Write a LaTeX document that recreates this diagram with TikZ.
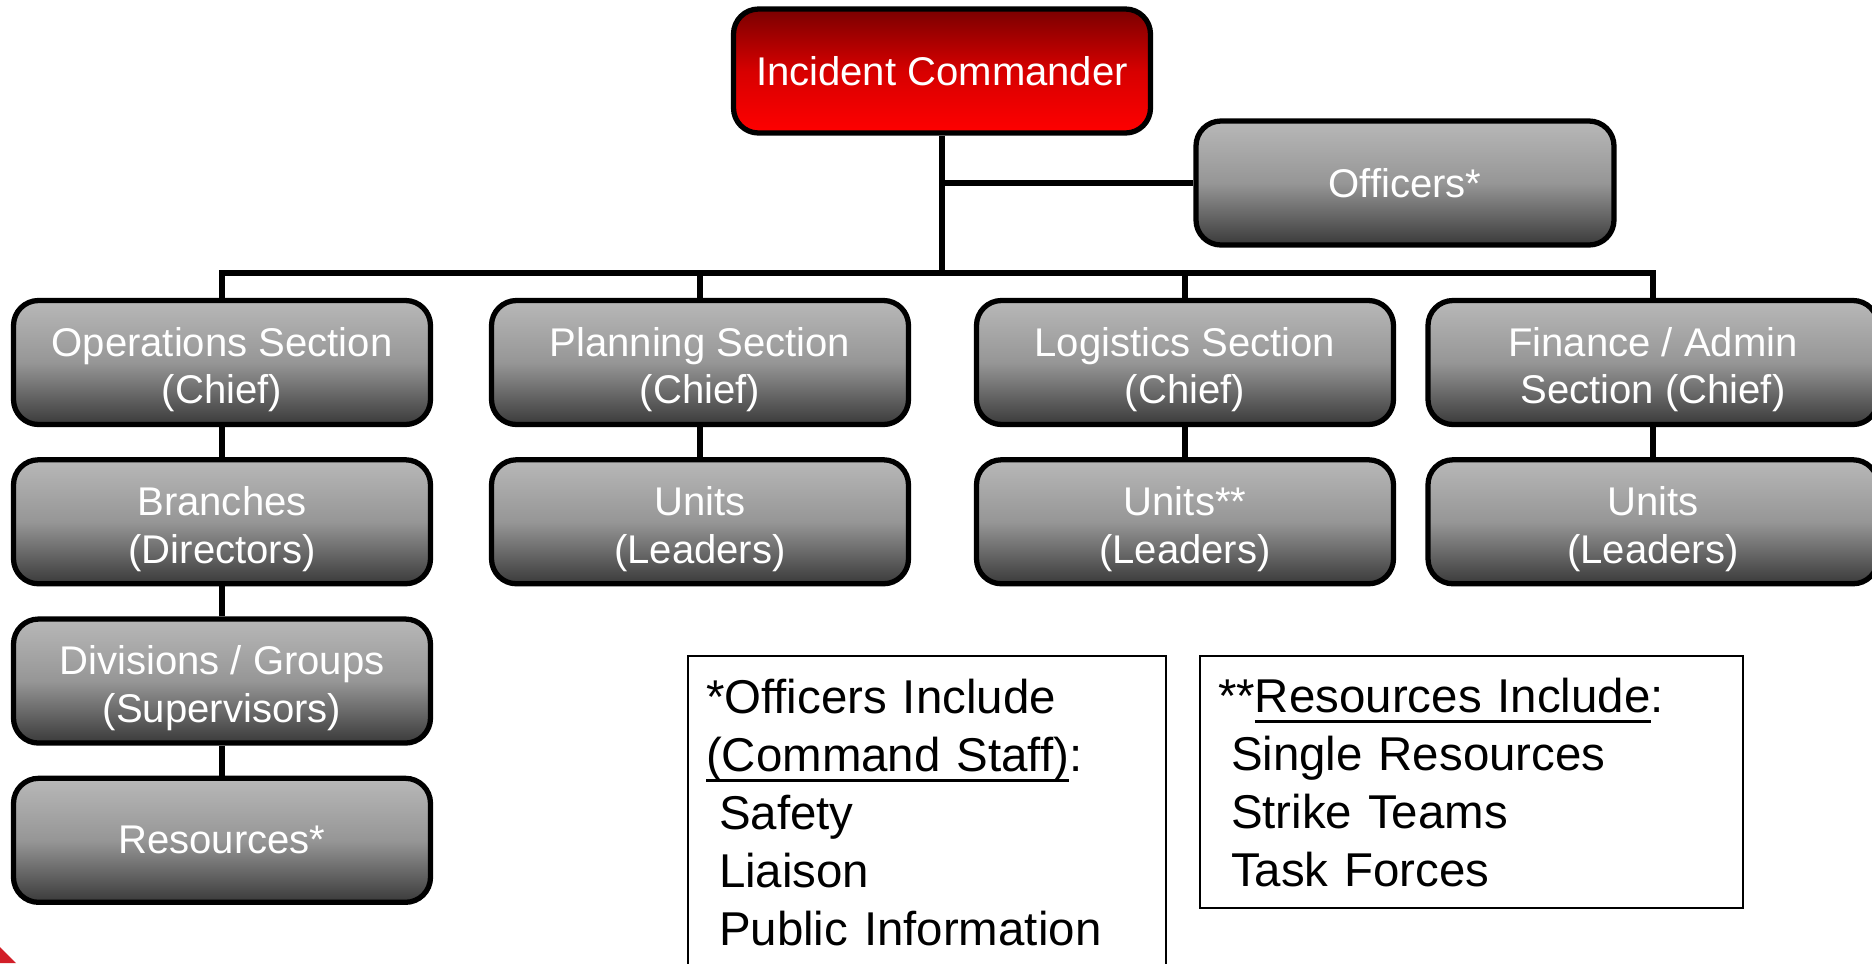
\documentclass[tikz,border=0pt]{standalone}
\usepackage{fontspec}
\setmainfont{Liberation Sans}
\usetikzlibrary{positioning,calc}

\newcommand{\ulined}[1]{\leavevmode\setbox0\hbox{#1}\rlap{\vrule height -0.08cm depth 0.11cm width \wd0}\box0}

\definecolor{boxtop}{RGB}{184,184,184}
\definecolor{boxmid}{RGB}{150,150,150}
\definecolor{boxbot}{RGB}{58,58,58}
\definecolor{ictop}{RGB}{122,0,0}
\definecolor{icmid}{RGB}{215,0,0}
\definecolor{icbot}{RGB}{255,0,0}
\definecolor{cornerred}{RGB}{210,30,40}

\begin{document}
\begin{tikzpicture}[
    node distance=0.30cm,
    box/.style={rectangle, draw, line width=1.5pt, rounded corners=0.25cm, minimum height=1.24cm, minimum width=4.17cm, align=center, text=white, font=\fontsize{11.4}{13.6}\selectfont, top color=boxtop, bottom color=boxbot, middle color=boxmid},
    twoline/.style={inner ysep=0pt, execute at begin node={\rule{0pt}{0.91cm}}},
    icbox/.style={top color=ictop, bottom color=icbot, middle color=icmid},
    link/.style={line width=1.5pt},
    legend/.style={rectangle, draw, line width=0.6pt, anchor=north west, align=left, font=\fontsize{13.5}{16.5}\selectfont, inner xsep=0.18cm, inner ysep=0.1cm}
]
\useasboundingbox (0,0) rectangle (18.72,-9.63);

% Command level
\node[box, icbox] (ic) at (9.42,-0.71) {Incident Commander};
\node[box, minimum width=4.18cm] (officers) at (14.05,-1.83) {Officers*};
\coordinate (bus) at (9.42,-2.73);

% General staff sections
\node[box, twoline] (ops) at (2.22,-3.625) {Operations Section\\(Chief)};
\node[box, twoline] (plan) at (7.00,-3.625) {Planning Section\\(Chief)};
\node[box, twoline] (log) at (11.85,-3.625) {Logistics Section\\(Chief)};
\node[box, twoline, minimum width=4.5cm] (fin) at (16.53,-3.625) {Finance / Admin\\Section (Chief)};

% Operations chain
\node[box, twoline, below=of ops] (branches) {Branches\\(Directors)};
\node[box, twoline, below=of branches] (divisions) {Divisions / Groups\\(Supervisors)};
\node[box, below=of divisions] (resources) {Resources*};

% Units under the other sections
\node[box, twoline, below=of plan] (planunits) {Units\\(Leaders)};
\node[box, twoline, below=of log] (logunits) {Units**\\(Leaders)};
\node[box, twoline, minimum width=4.5cm, below=of fin] (finunits) {Units\\(Leaders)};

% Connectors
\draw[link] (ic) -- (bus);
\draw[link] (ic.south |- officers.west) -- (officers.west);
\draw[link] (ops.north) |- (bus) -| (fin.north);
\draw[link] (plan.north) -- (plan.north |- bus);
\draw[link] (log.north) -- (log.north |- bus);
\draw[link] (ops) -- (branches);
\draw[link] (branches) -- (divisions);
\draw[link] (divisions) -- (resources);
\draw[link] (plan) -- (planunits);
\draw[link] (log) -- (logunits);
\draw[link] (fin) -- (finunits);

% Notes
\node[legend, minimum width=4.78cm, text width=4.42cm, minimum height=3.12cm] (offnote) at (6.87,-6.55)
  {*Officers Include\\\ulined{(Command Staff)}:\\\hspace*{0.13cm}Safety\\\hspace*{0.13cm}Liaison\\\hspace*{0.13cm}Public Information};
\node[legend, minimum width=5.43cm, text width=5.07cm, minimum height=2.52cm] (resnote) at (11.99,-6.55)
  {**\ulined{Resources Include}:\\\hspace*{0.13cm}Single Resources\\\hspace*{0.13cm}Strike Teams\\\hspace*{0.13cm}Task Forces};

% corner swoosh
\fill[cornerred] (0,-9.47) -- (0.16,-9.63) -- (0,-9.63) -- cycle;
\end{tikzpicture}
\end{document}
